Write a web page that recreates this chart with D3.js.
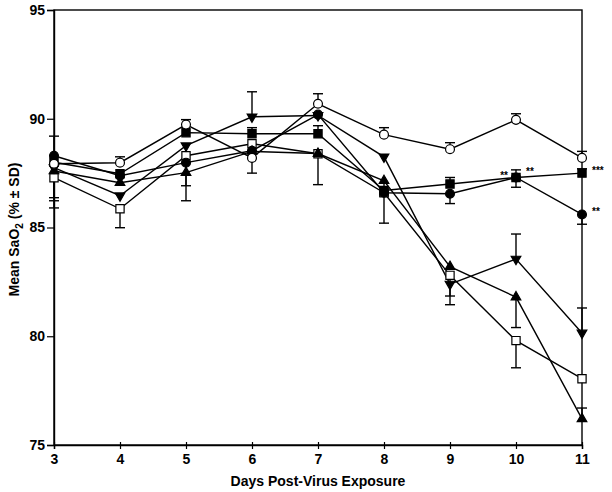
<!DOCTYPE html>
<html><head><meta charset="utf-8">
<script src="https://cdn.jsdelivr.net/npm/d3@7"></script>
<style>body{margin:0;background:#fff;}svg{display:block;}</style>
</head><body>
<svg id="chart" width="612" height="492"></svg>
<script>
const days = [3,4,5,6,7,8,9,10,11];
const yTicks = [75,80,85,90,95];
const openCircle   = [87.93, 87.98, 89.73, 88.2, 90.69, 89.27, 88.6, 89.95, 88.2];
const filledCircle = [88.3, 87.38, 87.98, 88.53, 90.19, 86.6, 86.55, 87.3, 85.6];
const filledSquare = [88.0, 87.47, 89.36, 89.31, 89.31, 86.7, 87.0, 87.3, 87.5];
const openSquare   = [87.29, 85.86, 88.3, 88.85, 88.39, 86.6, 82.8, 79.8, 78.05];
const triUp        = [87.6, 87.06, 87.52, 88.5, 88.4, 87.15, 83.2, 81.8, 76.2];
const triDown      = [87.75, 86.46, 88.76, 90.09, 90.15, 88.25, 82.4, 83.55, 80.15];
// signed SD (positive drawn upward, negative downward, 0 none)
const openCircleErr   = [0, 0.27, 0.23, -0.7, 0.46, 0.32, 0.3, 0.28, 0.3];
const filledCircleErr = [0.9, 0, -1.06, 0, 0, 0, -0.45, -0.45, -0.45];
const filledSquareErr = [0, 0, 0, 0.28, 0.37, 0, 0.3, 0.35, 0.2];
const openSquareErr   = [-1.39, -0.87, 0, 0, -1.42, -1.4, -0.95, -1.25, 0];
const triUpErr        = [-1.37, 0, -1.29, 0, 0, -0.7, 0, -1.4, 0.5];
const triDownErr      = [-1.38, 0, 0, 1.15, 0, 0, -0.95, 1.15, 1.15];
const stars = [
  {day:10, value:87.3, text:"**", side:"left"},
  {day:10, value:87.3, text:"**", side:"right"},
  {day:11, value:87.5, text:"***", side:"right"},
  {day:11, value:85.6, text:"**", side:"right"}
];

const series = [
  {vals:openSquare, err:openSquareErr, shape:"square", fill:"#fff"},
  {vals:triUp, err:triUpErr, shape:"triUp", fill:"#000"},
  {vals:triDown, err:triDownErr, shape:"triDown", fill:"#000"},
  {vals:filledSquare, err:filledSquareErr, shape:"square", fill:"#000"},
  {vals:filledCircle, err:filledCircleErr, shape:"circle", fill:"#000"},
  {vals:openCircle, err:openCircleErr, shape:"circle", fill:"#fff"}
];

const W=612,H=492, m={l:54,r:30,t:10,b:47};
const svg=d3.select("#chart");
const x=d3.scaleLinear().domain([3,11]).range([m.l,W-m.r]);
const y=d3.scaleLinear().domain([75,95]).range([H-m.b,m.t]);
const font="'Liberation Sans', Arial, sans-serif";

// frame
svg.append("rect").attr("x",x(3)).attr("y",y(95)).attr("width",x(11)-x(3)).attr("height",y(75)-y(95))
  .attr("fill","none").attr("stroke","#000").attr("stroke-width",1.4);

const ya=svg.append("g").attr("transform",`translate(${x(3)},0)`)
  .call(d3.axisLeft(y).tickValues(yTicks).tickSize(7).tickFormat(d3.format("d")));
const xa=svg.append("g").attr("transform",`translate(0,${y(75)})`)
  .call(d3.axisBottom(x).tickValues(days).tickSize(4).tickFormat(d3.format("d")));
[ya,xa].forEach(g=>{
  g.select(".domain").attr("stroke","#000").attr("stroke-width",1.4);
  g.selectAll(".tick line").attr("stroke","#000").attr("stroke-width",1.2);
  g.selectAll("text").attr("fill","#000").style("font-family",font).style("font-weight","bold").style("font-size","14px");
});
ya.selectAll("text").attr("x",-9);
xa.selectAll(".tick line").attr("y1",-3);
xa.selectAll("text").attr("y",9);

svg.append("text").attr("x",(x(3)+x(11))/2).attr("y",486).attr("text-anchor","middle")
  .style("font-family",font).style("font-weight","bold").style("font-size","14px").text("Days Post-Virus Exposure");
const yl=svg.append("text").attr("transform",`translate(19,${(y(75)+y(95))/2+2}) rotate(-90)`).attr("text-anchor","middle")
  .style("font-family",font).style("font-weight","bold").style("font-size","14px");
yl.append("tspan").text("Mean SaO");
yl.append("tspan").attr("dy",4).style("font-size","10px").text("2");
yl.append("tspan").attr("dy",-4).text(" (% \u00b1 SD)");

const line=d3.line().x((d,i)=>x(days[i])).y(d=>y(d));
// error bars
series.forEach(s=>{
  s.vals.forEach((v,i)=>{
    const e=s.err[i]; if(!e) return;
    const cx=x(days[i]), y0=y(v), y1=y(v+e);
    svg.append("line").attr("x1",cx).attr("x2",cx).attr("y1",y0).attr("y2",y1).attr("stroke","#000").attr("stroke-width",1.4);
    svg.append("line").attr("x1",cx-5).attr("x2",cx+5).attr("y1",y1).attr("y2",y1).attr("stroke","#000").attr("stroke-width",1.4);
  });
});
series.forEach(s=>{
  svg.append("path").attr("d",line(s.vals)).attr("fill","none").attr("stroke","#000").attr("stroke-width",1.4);
});
const shapes={
  circle:d3.symbol().type(d3.symbolCircle).size(62),
  square:d3.symbol().type(d3.symbolSquare).size(68),
  triUp:d3.symbol().type(d3.symbolTriangle).size(40)
};
series.forEach(s=>{
  s.vals.forEach((v,i)=>{
    const p=svg.append("path").attr("fill",s.fill).attr("stroke","#000").attr("stroke-width",1.2);
    if(s.shape==="triDown"){
      p.attr("d",shapes.triUp()).attr("transform",`translate(${x(days[i])},${y(v)}) rotate(180)`);
    } else {
      p.attr("d",shapes[s.shape]()).attr("transform",`translate(${x(days[i])},${y(v)})`);
    }
  });
});
stars.forEach(st=>{
  const left=st.side==="left";
  const px=x(st.day)+(left?-8:10);
  const py=y(st.value)+(left?2:(st.day===10?-2:1));
  svg.append("text").attr("x",px).attr("y",py).attr("text-anchor",left?"end":"start")
    .style("font-family",font).style("font-size","10px").style("font-weight","bold").text(st.text);
});
</script>
</body></html>
